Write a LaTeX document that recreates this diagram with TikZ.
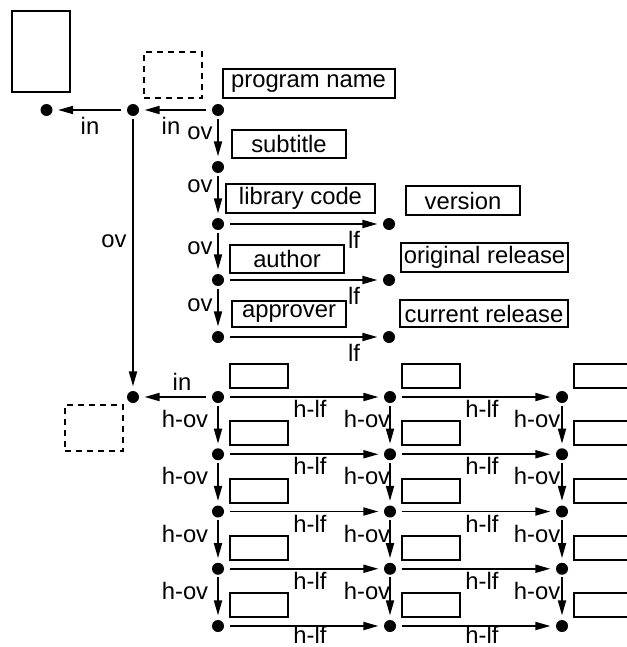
\documentclass[tikz,border=0pt]{standalone}
\usepackage{fontspec}
\setmainfont{Liberation Sans}
\usetikzlibrary{arrows.meta}
\begin{document}
\begin{tikzpicture}[x=0.5pt,y=-0.5pt,
  dot/.style={circle,fill,inner sep=0pt,minimum size=6pt},
  txt/.style={font=\fontsize{11.9}{14}\selectfont},
  tbox/.style={draw,line width=1pt,inner sep=0pt,txt},
  ebox/.style={draw,line width=1pt,inner sep=0pt,minimum width=29pt,minimum height=12pt},
  lbl/.style={inner sep=0pt,txt},
  arr/.style={-{Triangle[length=7.5pt,width=4pt]},line width=0.9pt,shorten >=2.6pt,shorten <=2.6pt},
  varr/.style={arr,shorten >=2.1pt,shorten <=1.1pt},
  dbox/.style={draw,dash pattern=on 3pt off 2.5pt,line width=0.9pt,inner sep=0pt}
]
\useasboundingbox (0,0) rectangle (626,647);

% plain and dashed boxes
\node[draw,line width=1pt,inner sep=0pt,minimum width=29pt,minimum height=40.5pt] (tall) at (41,51.5) {};
\node[dbox,minimum width=29pt,minimum height=23pt] (dashtop) at (173,75) {};
\node[dbox,minimum width=29pt,minimum height=23pt] (dashbot) at (94,428) {};

% text boxes
\node[tbox,minimum width=86pt,minimum height=14.5pt] (pname) at (308.5,84) {program name};
\node[tbox,minimum width=57pt,minimum height=14pt] (subt) at (289,144) {subtitle};
\node[tbox,minimum width=74.5pt,minimum height=14.5pt] (libc) at (300.5,198.5) {library code};
\node[tbox,minimum width=57pt,minimum height=14.5pt] (vers) at (463,200.5) {version};
\node[tbox,minimum width=57pt,minimum height=14pt] (auth) at (287,259) {author};
\node[tbox,minimum width=83.5pt,minimum height=14.5pt] (orel) at (484.5,257.5) {original release};
\node[tbox,minimum width=57pt,minimum height=13pt] (appr) at (289,314) {approver};
\node[tbox,minimum width=84pt,minimum height=13.5pt] (crel) at (484,313.5) {current release};

% top dots
\node[dot] (A) at (46.5,110) {};
\node[dot] (B) at (133,110) {};
\node[dot] (C) at (218,110) {};
\node[dot] (D1) at (218,167) {};
\node[dot] (D2) at (218,224) {};
\node[dot] (D3) at (218,280) {};
\node[dot] (D4) at (218,337) {};
\node[dot] (R2) at (389,224) {};
\node[dot] (R3) at (389,280) {};
\node[dot] (R4) at (389,337) {};
\node[dot] (G0) at (133,397) {};

% top arrows
\draw[arr] (C) -- (B);
\draw[arr] (B) -- (A);
\node[lbl] (inCB) at (171,126) {in};
\node[lbl] (inBA) at (90,126) {in};
\draw[varr] (B) -- (G0);
\node[lbl] (ovB) at (114,241) {ov};
\draw[varr] (C) -- (D1);
\draw[varr] (D1) -- (D2);
\draw[varr] (D2) -- (D3);
\draw[varr] (D3) -- (D4);
\node[lbl] (ov1) at (200,133) {ov};
\node[lbl] (ov2) at (200,186) {ov};
\node[lbl] (ov3) at (200,248) {ov};
\node[lbl] (ov4) at (200,305) {ov};
\draw[arr] (D2) -- (R2);
\draw[arr] (D3) -- (R3);
\draw[arr] (D4) -- (R4);
\node[lbl] (lf2) at (354,240) {lf};
\node[lbl] (lf3) at (354,296) {lf};
\node[lbl] (lf4) at (354,353) {lf};

% grid
\foreach \c/\x in {1/218,2/390,3/562} {
  \foreach \r/\y in {1/397,2/454.25,3/511.5,4/568.75,5/626} {
    \node[dot] (g-\c-\r) at (\x,\y) {};
    \node[ebox] (b-\c-\r) at (\x+41,\y-21) {};
  }
}
\draw[arr] (g-1-1) -- (G0);
\node[lbl] (inG) at (182,382) {in};
\foreach \r/\y in {1/409,2/466.25,3/523.5,4/580.75,5/635} {
  \node[lbl] (hlfa-\r) at (310,\y) {h-lf};
  \node[lbl] (hlfb-\r) at (482,\y) {h-lf};
}
\foreach \r in {1,...,5} {
  \draw[arr] (g-1-\r) -- (g-2-\r);
  \draw[arr] (g-2-\r) -- (g-3-\r);
}
\foreach \r/\n/\y in {1/2/397,2/3/454.25,3/4/511.5,4/5/568.75} {
  \draw[varr] (g-1-\r) -- (g-1-\n);
  \draw[varr] (g-2-\r) -- (g-2-\n);
  \draw[varr] (g-3-\r) -- (g-3-\n);
  \node[lbl] (hova-\r) at (185,\y+22) {h-ov};
  \node[lbl] (hovb-\r) at (367,\y+22) {h-ov};
  \node[lbl] (hovc-\r) at (537,\y+22) {h-ov};
}
\end{tikzpicture}
\end{document}
